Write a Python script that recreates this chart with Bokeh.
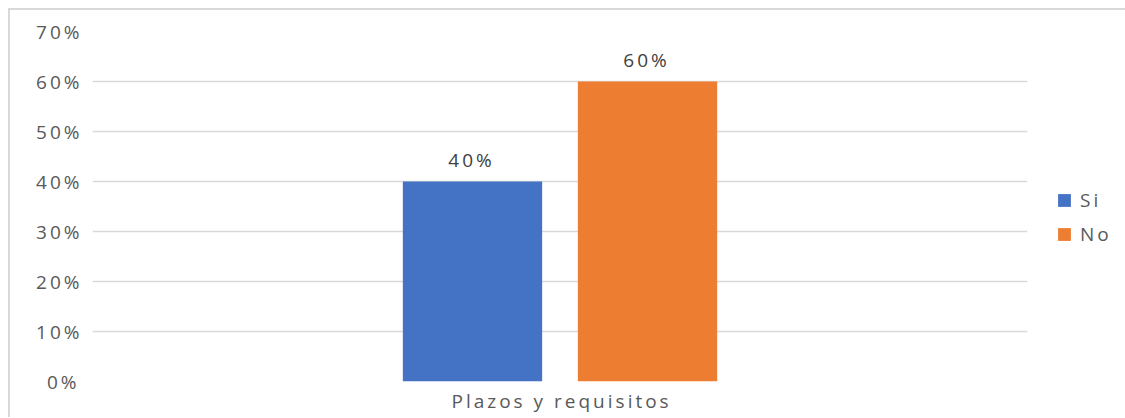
from bokeh.plotting import figure
from bokeh.models import (ColumnDataSource, FactorRange, Range1d, NumeralTickFormatter,
                          FixedTicker, LabelSet, Legend, LegendItem, Title)
from bokeh.core.properties import value
from bokeh.transform import dodge
from bokeh.embed import file_html
from bokeh.resources import INLINE

categories = ["Plazos y requisitos"]
series_names = ["Si", "No"]
si_values = [0.40]
no_values = [0.60]
si_labels = ["40%"]
no_labels = ["60%"]
y_ticks = [0, 0.1, 0.2, 0.3, 0.4, 0.5, 0.6, 0.7]

FONT = "Open Sans"
FS = "19px"
TXT = "#595959"
GRID = "#d9d9d9"

src = ColumnDataSource(data=dict(cat=categories, si=si_values, no=no_values,
                                 si_lab=si_labels, no_lab=no_labels))

p = figure(x_range=FactorRange(factors=categories, range_padding=0),
           y_range=Range1d(0, 0.7),
           frame_width=935, frame_height=350,
           min_border_left=82, min_border_right=0, min_border_top=21, min_border_bottom=35,
           output_backend="svg", toolbar_location=None,
           styles={"margin-left": "8px", "margin-top": "8px", "letter-spacing": "3px",
                   "border-top": "2px solid #d9d9d9", "border-left": "2px solid #d9d9d9"})
p.outline_line_color = None
p.background_fill_color = "white"
p.border_fill_color = "white"

off = 0.0936
w = 0.149
r1 = p.vbar(x=dodge("cat", -off, range=p.x_range), top="si", width=w, source=src,
            fill_color="#4472c4", line_color=None)
r2 = p.vbar(x=dodge("cat", off, range=p.x_range), top="no", width=w, source=src,
            fill_color="#ed7d31", line_color=None)

for col, lab, o in (("si", "si_lab", -off), ("no", "no_lab", off)):
    ls = LabelSet(x=dodge("cat", o, range=p.x_range), y=col, text=lab, source=src,
                  text_align="center", text_baseline="alphabetic", y_offset=15, x_offset=-5.5,
                  text_font=value(FONT), text_font_size=FS, text_color="#404040")
    p.add_layout(ls)

p.yaxis.ticker = FixedTicker(ticks=y_ticks)
p.yaxis.formatter = NumeralTickFormatter(format="0%")
p.yaxis.axis_line_color = None
p.yaxis.major_tick_line_color = None
p.yaxis.minor_tick_line_color = None
p.yaxis.major_label_standoff = 13
p.yaxis.major_label_text_font = FONT
p.yaxis.major_label_text_font_size = FS
p.yaxis.major_label_text_color = TXT

p.xaxis.visible = False

# category label under the bars, placed as a caption (letter-spaced text)
cat_title = Title(text=categories[0], align="left", offset=359, standoff=8,
                  text_font=FONT, text_font_size=FS, text_font_style="normal",
                  text_color=TXT)
p.add_layout(cat_title, "below")

p.xgrid.grid_line_color = None
p.ygrid.grid_line_color = GRID
p.ygrid.grid_line_width = 1.5

legend = Legend(items=[LegendItem(label=series_names[0], renderers=[r1]),
                       LegendItem(label=series_names[1], renderers=[r2])],
                location=(29, 134), orientation="vertical",
                glyph_width=16, glyph_height=16, label_height=20, spacing=8,
                padding=0, margin=0, border_line_color=None, background_fill_alpha=0,
                label_text_font=FONT, label_text_font_size=FS, label_text_color=TXT,
                label_standoff=8, label_width=20)
p.add_layout(legend, "right")

open("out.html", "w").write(file_html(p, INLINE))
